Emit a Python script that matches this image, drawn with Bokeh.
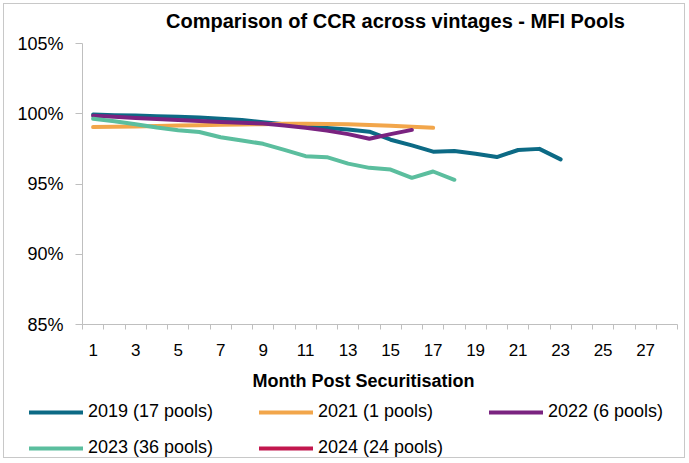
from bokeh.plotting import figure
from bokeh.layouts import column
from bokeh.models import (ColumnDataSource, Range1d, FixedTicker, PrintfTickFormatter,
                          Legend, LegendItem, Label)
from bokeh.embed import file_html
from bokeh.resources import INLINE

# ---- data ----
months_2019 = list(range(1, 24))
ccr_2019 = [99.95, 99.9, 99.88, 99.83, 99.78, 99.73, 99.65, 99.55, 99.4, 99.25, 99.1, 98.98,
            98.88, 98.72, 98.15, 97.75, 97.3, 97.35, 97.15, 96.92, 97.42, 97.5, 96.75]
months_2021 = list(range(1, 18))
ccr_2021 = [99.05, 99.08, 99.1, 99.13, 99.16, 99.19, 99.21, 99.23, 99.26, 99.28, 99.28, 99.27,
            99.25, 99.2, 99.15, 99.08, 99.0]
months_2022 = list(range(1, 17))
ccr_2022 = [99.85, 99.78, 99.7, 99.63, 99.56, 99.48, 99.42, 99.36, 99.3, 99.17, 99.0, 98.8,
            98.55, 98.22, 98.55, 98.85]
months_2023 = list(range(1, 19))
ccr_2023 = [99.64, 99.47, 99.26, 99.02, 98.83, 98.7, 98.33, 98.1, 97.86, 97.43, 96.98, 96.91,
            96.45, 96.15, 96.03, 95.44, 95.89, 95.3]
months_2024 = []
ccr_2024 = []

series_names = ["2019 (17 pools)", "2021 (1 pools)", "2022 (6 pools)", "2023 (36 pools)", "2024 (24 pools)"]
series_colors = ["#0C6A85", "#F2A64B", "#7A2380", "#5BBE9E", "#C2174E"]
x_ticks = list(range(1, 28, 2))
y_ticks = [85, 90, 95, 100, 105]
n_categories = 28

title_text = "Comparison of CCR across vintages - MFI Pools"
x_title = "Month Post Securitisation"

FONT = "Liberation Sans"
AX = "#BFBFBF"
W = 680


def bare(fig):
    fig.outline_line_color = None
    fig.axis.visible = False
    fig.xgrid.visible = False
    fig.ygrid.visible = False
    fig.frame_align = False


# ---- title strip ----
tf = figure(width=W, height=28, output_backend="svg", toolbar_location=None,
            x_range=Range1d(0, 1), y_range=Range1d(0, 1),
            min_border_left=0, min_border_right=0, min_border_top=0, min_border_bottom=0)
bare(tf)
tf.add_layout(Label(x=391, y=12, x_units="screen", y_units="screen", text=title_text,
                    text_font=FONT, text_font_size="20px", text_font_style="bold",
                    text_align="center", text_baseline="middle", text_color="#000000"))

# ---- chart ----
p = figure(width=W, height=330, output_backend="svg", toolbar_location=None,
           x_range=Range1d(0.5, n_categories + 0.5), y_range=Range1d(85, 105),
           min_border_left=78, min_border_right=7, min_border_top=11, min_border_bottom=38)
p.frame_align = False
p.outline_line_color = None
p.xgrid.visible = False
p.ygrid.visible = False

xa = p.xaxis[0]
xa.ticker = FixedTicker(ticks=x_ticks, minor_ticks=[i + 0.5 for i in range(0, n_categories + 1)])
xa.axis_line_color = AX
xa.major_tick_line_color = None
xa.major_tick_out = 0
xa.major_tick_in = 0
xa.minor_tick_line_color = AX
xa.minor_tick_out = 5
xa.minor_tick_in = 0
xa.major_label_text_font = FONT
xa.major_label_text_font_size = "17px"
xa.major_label_text_color = "#000000"
xa.major_label_standoff = 14

ya = p.yaxis[0]
ya.ticker = FixedTicker(ticks=y_ticks)
ya.formatter = PrintfTickFormatter(format="%d%%")
ya.axis_line_color = AX
ya.major_tick_line_color = AX
ya.major_tick_out = 7
ya.major_tick_in = 0
ya.minor_tick_line_color = None
ya.major_label_text_font = FONT
ya.major_label_text_font_size = "18px"
ya.major_label_text_color = "#000000"
ya.major_label_standoff = 12

xs = [months_2019, months_2021, months_2022, months_2023, months_2024]
ys = [ccr_2019, ccr_2021, ccr_2022, ccr_2023, ccr_2024]
for name, color, mx, my in zip(series_names, series_colors, xs, ys):
    src = ColumnDataSource(dict(x=mx, y=my))
    p.line("x", "y", source=src, line_color=color, line_width=4, line_join="round", line_cap="round")

# ---- x-axis title + legend strip ----
lg = figure(width=W, height=95, output_backend="svg", toolbar_location=None,
            x_range=Range1d(0, 1), y_range=Range1d(0, 1),
            min_border_left=0, min_border_right=0, min_border_top=0, min_border_bottom=0)
bare(lg)
lg.add_layout(Label(x=359, y=77, x_units="screen", y_units="screen", text=x_title,
                    text_font=FONT, text_font_size="18px", text_font_style="bold",
                    text_align="center", text_baseline="middle", text_color="#000000"))
items = []
for name, color in zip(series_names, series_colors):
    r = lg.line(x=[float("nan")], y=[float("nan")], line_color=color, line_width=4, line_cap="round")
    items.append(LegendItem(label=name, renderers=[r]))
legend = Legend(items=items, ncols=3, location=(25, -1), orientation="horizontal",
                glyph_width=54, glyph_height=20, label_height=20, label_width=156,
                label_standoff=5, spacing=15, padding=0, margin=0,
                border_line_color=None, background_fill_alpha=0,
                label_text_font=FONT, label_text_font_size="18px", label_text_color="#000000")
lg.add_layout(legend, "center")

layout = column(tf, p, lg, spacing=0,
                styles={"margin-left": "3px", "margin-top": "3px", "border": "1px solid #C8C8C8"})
open("out.html", "w").write(file_html(layout, INLINE))
